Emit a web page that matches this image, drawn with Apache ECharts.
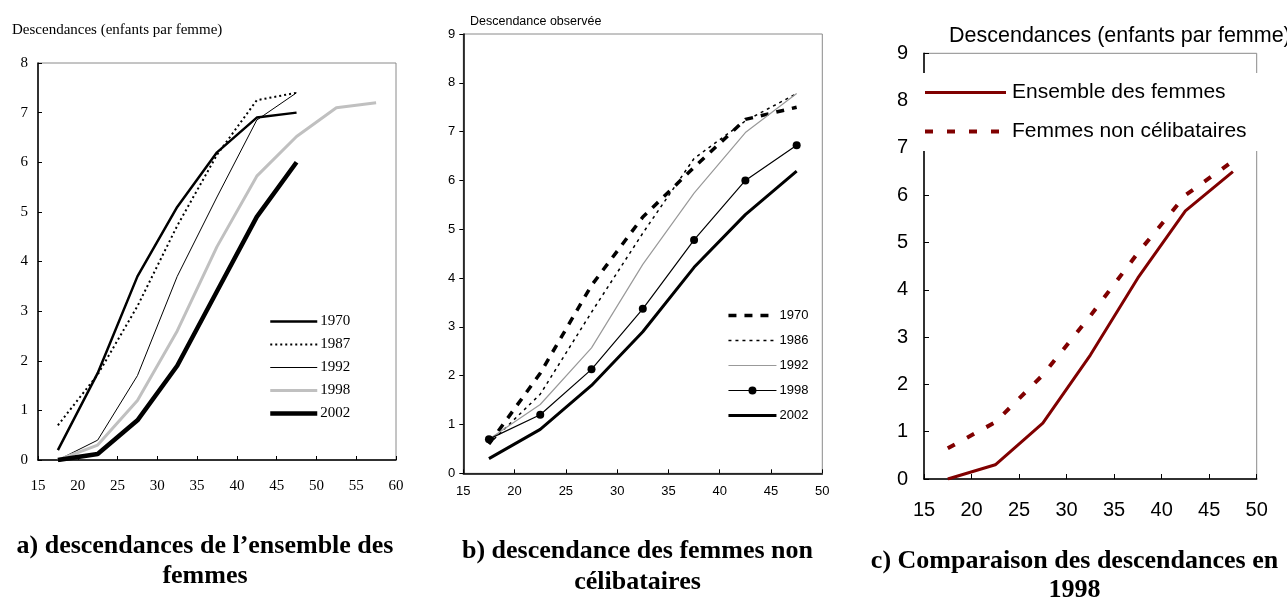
<!DOCTYPE html>
<html><head><meta charset="utf-8">
<script src="https://cdn.jsdelivr.net/npm/echarts@6/dist/echarts.min.js"></script>
<style>
html,body{margin:0;padding:0;background:#fff;overflow:hidden;width:1287px;height:601px;}
.p{position:absolute;top:0;height:601px;}
</style></head><body>
<div id="ca" class="p" style="left:0;width:420px"></div>
<div id="cb" class="p" style="left:420px;width:420px"></div>
<div id="cc" class="p" style="left:840px;width:447px"></div>
<script>
// ---- data ----
const ages = [17.5, 22.5, 27.5, 32.5, 37.5, 42.5, 47.5, 52.5, 57.5];

// panel a: descendances de l'ensemble des femmes
const aNames = ['1970', '1987', '1992', '1998', '2002'];
const a1970 = [0.2, 1.75, 3.7, 5.1, 6.2, 6.9, 7.0];
const a1987 = [0.7, 1.72, 3.1, 4.72, 6.15, 7.25, 7.4];
const a1992 = [0.0, 0.4, 1.7, 3.7, 5.3, 6.85, 7.4];
const a1998 = [0.0, 0.3, 1.2, 2.6, 4.3, 5.72, 6.52, 7.1, 7.2];
const a2002 = [0.0, 0.12, 0.8, 1.9, 3.4, 4.9, 6.0];

// panel b: descendance des femmes non célibataires
const bNames = ['1970', '1986', '1992', '1998', '2002'];
const b1970 = [0.6, 2.05, 3.85, 5.25, 6.27, 7.25, 7.5];
const b1986 = [0.6, 1.62, 3.3, 4.92, 6.45, 7.22, 7.78];
const b1992 = [0.7, 1.41, 2.57, 4.28, 5.74, 6.98, 7.78];
const b1998 = [0.7, 1.2, 2.13, 3.37, 4.78, 6.0, 6.72];
const b2002 = [0.3, 0.9, 1.8, 2.9, 4.22, 5.3, 6.19];

// panel c: comparaison 1998
const cNames = ['Ensemble des femmes', 'Femmes non célibataires'];
const cEnsemble = [0.0, 0.3, 1.18, 2.62, 4.25, 5.67, 6.5];
const cNonCelib = [0.65, 1.2, 2.2, 3.45, 4.78, 6.0, 6.72];

// ---- texts ----
const aYTitle = 'Descendances (enfants par femme)';
const bYTitle = 'Descendance observée';
const cYTitle = 'Descendances (enfants par femme)';
const aCaption = 'a) descendances de l\u2019ensemble des\nfemmes';
const bCaption = 'b) descendance des femmes non\ncélibataires';
const cCaption = 'c) Comparaison des descendances en\n1998';

function pts(arr) { return arr.map((v, i) => [ages[i], v]); }

const SERIF = '"Liberation Serif", "Times New Roman", serif';
const SANS = '"Liberation Sans", Arial, sans-serif';

function lineSeries(name, arr, color, width, type, extra) {
  return Object.assign({
    name: name, type: 'line', data: pts(arr), symbol: 'none',
    color: color, lineStyle: { color: color, width: width, type: type || 'solid' },
    animation: false, silent: true
  }, extra || {});
}

function caption(text, x, y, lh) {
  return {
    type: 'text', x: x, y: y, silent: true,
    style: { text: text, align: 'center', verticalAlign: 'top',
      fontFamily: SERIF, fontWeight: 'bold', fontSize: 26, lineHeight: lh, fill: '#000' }
  };
}

// ---- panel a ----
const chA = echarts.init(document.getElementById('ca'));
chA.setOption({
  animation: false,
  grid: { left: 38, top: 63, right: 24, bottom: 141, show: true, borderColor: '#8a8a8a', borderWidth: 1 },
  xAxis: { type: 'value', min: 15, max: 60, interval: 5,
    axisLine: { lineStyle: { color: '#000', width: 1.5 } },
    axisTick: { inside: true, length: 4, lineStyle: { color: '#000' } },
    axisLabel: { margin: 19, fontFamily: SERIF, fontSize: 15, color: '#000' },
    splitLine: { show: false } },
  yAxis: { type: 'value', min: 0, max: 8, interval: 1,
    axisLine: { show: true, lineStyle: { color: '#000', width: 1.5 } },
    axisTick: { show: true, inside: true, length: 4, lineStyle: { color: '#000' } },
    axisLabel: { margin: 10, fontFamily: SERIF, fontSize: 15, color: '#000' },
    splitLine: { show: false } },
  legend: { data: aNames, orient: 'vertical', left: 268, top: 314, padding: 0,
    itemWidth: 47, itemHeight: 14, itemGap: 8, selectedMode: false,
    itemStyle: { opacity: 0 }, lineStyle: { width: 'inherit' },
    textStyle: { fontFamily: SERIF, fontSize: 15, color: '#000', padding: [0, 0, 0, -2] } },
  series: [
    lineSeries('1970', a1970, '#000', 2.5),
    lineSeries('1987', a1987, '#000', 2, [2, 3]),
    lineSeries('1992', a1992, '#000', 1),
    lineSeries('1998', a1998, '#c0c0c0', 3),
    lineSeries('2002', a2002, '#000', 4.5)
  ],
  graphic: [
    { type: 'text', x: 12, y: 23, silent: true,
      style: { text: aYTitle, fontFamily: SERIF, fontSize: 15, fill: '#000' } },
    caption(aCaption, 205, 531, 30)
  ]
});

// ---- panel b ----
const chB = echarts.init(document.getElementById('cb'));
chB.setOption({
  animation: false,
  grid: { left: 43.3, top: 34, right: 17.7, bottom: 127.7, show: true, borderColor: '#8a8a8a', borderWidth: 1 },
  xAxis: { type: 'value', min: 15, max: 50, interval: 5,
    axisLine: { lineStyle: { color: '#000', width: 1.5 } },
    axisTick: { inside: true, length: 4, lineStyle: { color: '#000' } },
    axisLabel: { margin: 12, fontFamily: SANS, fontSize: 13, color: '#000' },
    splitLine: { show: false } },
  yAxis: { type: 'value', min: 0, max: 9, interval: 1,
    axisLine: { show: true, lineStyle: { color: '#000', width: 1.5 } },
    axisTick: { show: true, inside: false, length: 4, lineStyle: { color: '#000' } },
    axisLabel: { margin: 8, fontFamily: SANS, fontSize: 13, color: '#000' },
    splitLine: { show: false } },
  legend: {
    data: bNames.map(n => n === '1998' ? { name: n, itemStyle: { opacity: 1 } } : { name: n }),
    orient: 'vertical', left: 306.7, top: 309, padding: 0,
    itemWidth: 48, itemHeight: 10, itemGap: 12, selectedMode: false,
    itemStyle: { opacity: 0 }, lineStyle: { width: 'inherit' },
    textStyle: { fontFamily: SANS, fontSize: 13, color: '#000', padding: [0, 0, 0, -2] } },
  series: [
    lineSeries('1970', b1970, '#000', 3.5, [8, 8]),
    lineSeries('1986', b1986, '#000', 1.5, [3, 4]),
    lineSeries('1992', b1992, '#999999', 1.2),
    lineSeries('1998', b1998, '#000', 1.2, 'solid', { symbol: 'circle', symbolSize: 8, showSymbol: true, itemStyle: { color: '#000' } }),
    lineSeries('2002', b2002, '#000', 3)
  ],
  graphic: [
    { type: 'text', x: 50, y: 15, silent: true,
      style: { text: bYTitle, fontFamily: SANS, fontSize: 12.5, fill: '#000' } },
    caption(bCaption, 217.5, 536, 31)
  ]
});

// ---- panel c ----
const chC = echarts.init(document.getElementById('cc'));
chC.setOption({
  animation: false,
  grid: { left: 84, top: 53.3, right: 30.3, bottom: 122, show: true, borderColor: '#8a8a8a', borderWidth: 1 },
  xAxis: { type: 'value', min: 15, max: 50, interval: 5,
    axisLine: { lineStyle: { color: '#000', width: 1.5 } },
    axisTick: { inside: true, length: 5, lineStyle: { color: '#000' } },
    axisLabel: { margin: 21, fontFamily: SANS, fontSize: 20, color: '#000' },
    splitLine: { show: false } },
  yAxis: { type: 'value', min: 0, max: 9, interval: 1,
    axisLine: { show: true, lineStyle: { color: '#000', width: 1.5 } },
    axisTick: { show: true, inside: true, length: 5, lineStyle: { color: '#000' } },
    axisLabel: { margin: 16, fontFamily: SANS, fontSize: 20, color: '#000' },
    splitLine: { show: false } },
  legend: { data: cNames, orient: 'vertical', left: 83, top: 73, padding: [9, 21, 9, 0],
    backgroundColor: '#fff', itemWidth: 81, itemHeight: 20, itemGap: 18, selectedMode: false,
    itemStyle: { opacity: 0 }, lineStyle: { width: 'inherit' },
    textStyle: { fontFamily: SANS, fontSize: 21, color: '#000', padding: [0, 0, 0, 1] } },
  series: [
    lineSeries(cNames[0], cEnsemble, '#800000', 3),
    lineSeries(cNames[1], cNonCelib, '#800000', 4, [8, 14])
  ],
  graphic: [
    { type: 'text', x: 109, y: 25, silent: true,
      style: { text: cYTitle, fontFamily: SANS, fontSize: 21.5, fill: '#000' } },
    caption(cCaption, 234.5, 547, 29)
  ]
});
</script></body></html>
